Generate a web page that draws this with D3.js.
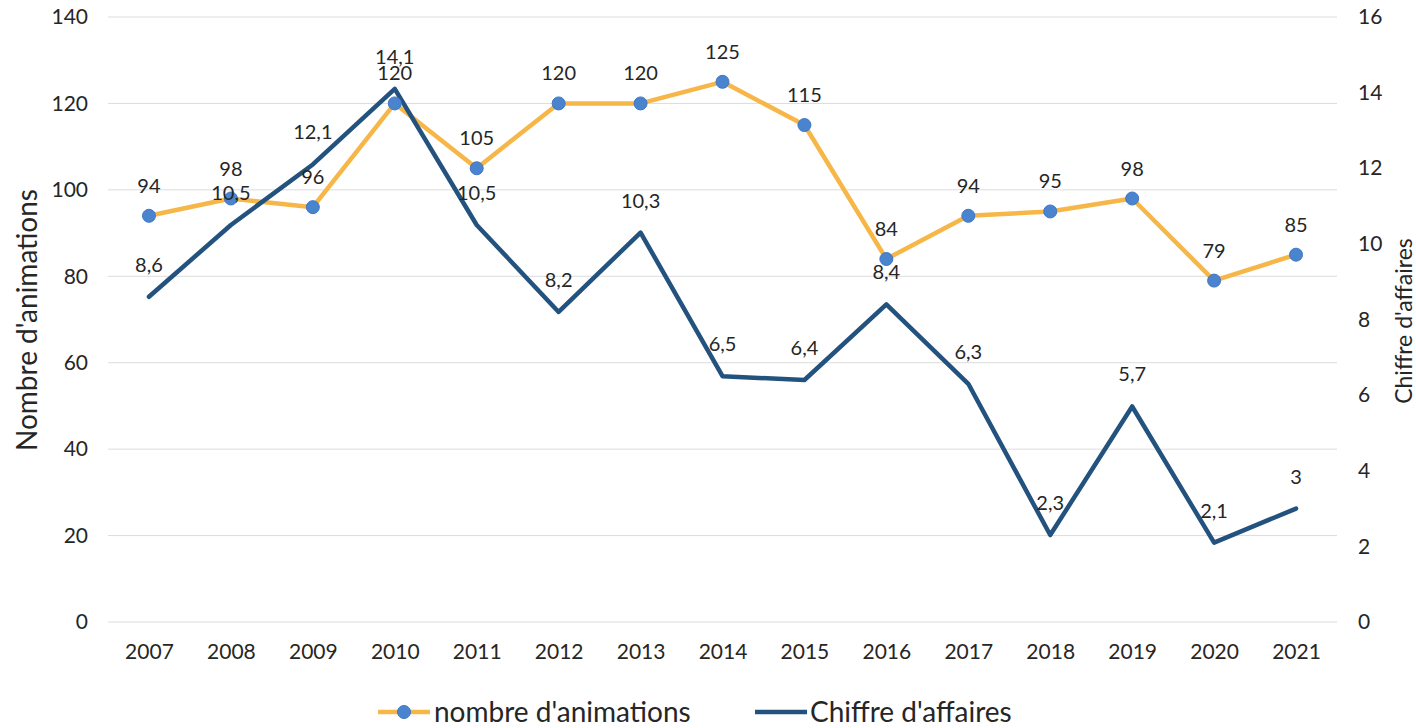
<!DOCTYPE html>
<html>
<head>
<meta charset="utf-8">
<script src="https://cdn.jsdelivr.net/npm/d3@7"></script>
<style>
  body { margin: 0; background: #fff; }
  svg text { font-family: Lato, "Open Sans", sans-serif; fill: #262626; }
</style>
</head>
<body>
<svg id="chart" width="1416" height="728"></svg>
<script>
var years = ['2007', '2008', '2009', '2010', '2011', '2012', '2013', '2014', '2015', '2016', '2017', '2018', '2019', '2020', '2021'];
var animations = [94, 98, 96, 120, 105, 120, 120, 125, 115, 84, 94, 95, 98, 79, 85];
var chiffre = [8.6, 10.5, 12.1, 14.1, 10.5, 8.2, 10.3, 6.5, 6.4, 8.4, 6.3, 2.3, 5.7, 2.1, 3];
var leftTicks = [0, 20, 40, 60, 80, 100, 120, 140];
var rightTicks = [0, 2, 4, 6, 8, 10, 12, 14, 16];

var svg = d3.select('#chart');

var x = d3.scalePoint().domain(years).range([108, 1337]).padding(0.5);
var yL = d3.scaleLinear().domain([0, 140]).range([622, 17]);
var yR = d3.scaleLinear().domain([0, 16]).range([622, 17]);

var frNum = function(v) { return String(v).replace('.', ','); };

// gridlines
svg.append('g')
  .selectAll('line')
  .data(leftTicks)
  .enter().append('line')
  .attr('x1', 108).attr('x2', 1337)
  .attr('y1', function(d) { return yL(d); })
  .attr('y2', function(d) { return yL(d); })
  .attr('stroke', '#dcdcdc')
  .attr('stroke-width', 1);

// left axis
var axL = svg.append('g').attr('transform', 'translate(94,0)')
  .call(d3.axisLeft(yL).tickValues(leftTicks).tickSize(0).tickPadding(6));
axL.select('.domain').remove();
axL.selectAll('text').style('font-size', '21px');

// right axis
var axR = svg.append('g').attr('transform', 'translate(1352,0)')
  .call(d3.axisRight(yR).tickValues(rightTicks).tickSize(0).tickPadding(6));
axR.select('.domain').remove();
axR.selectAll('text').style('font-size', '21px');

// bottom axis
var axB = svg.append('g').attr('transform', 'translate(0,640)')
  .call(d3.axisBottom(x).tickSize(0).tickPadding(4));
axB.select('.domain').remove();
axB.selectAll('text').style('font-size', '21px');

// axis titles
svg.append('text')
  .attr('transform', 'translate(37,320) rotate(-90)')
  .attr('text-anchor', 'middle')
  .style('font-size', '28px')
  .text("Nombre d'animations");

svg.append('text')
  .attr('transform', 'translate(1412,321) rotate(-90)')
  .attr('text-anchor', 'middle')
  .style('font-size', '23px')
  .text("Chiffre d'affaires");

// lines
var lineL = d3.line()
  .x(function(d, i) { return x(years[i]); })
  .y(function(d) { return yL(d); });
var lineR = d3.line()
  .x(function(d, i) { return x(years[i]); })
  .y(function(d) { return yR(d); });

svg.append('path')
  .datum(animations)
  .attr('d', lineL)
  .attr('fill', 'none')
  .attr('stroke', '#f6b748')
  .attr('stroke-width', 4.5)
  .attr('stroke-linejoin', 'round');

svg.append('path')
  .datum(chiffre)
  .attr('d', lineR)
  .attr('fill', 'none')
  .attr('stroke', '#23527e')
  .attr('stroke-width', 4.5)
  .attr('stroke-linejoin', 'round')
  .attr('stroke-linecap', 'round');

// markers
svg.append('g')
  .selectAll('circle')
  .data(animations)
  .enter().append('circle')
  .attr('cx', function(d, i) { return x(years[i]); })
  .attr('cy', function(d) { return yL(d); })
  .attr('r', 6.5)
  .attr('fill', '#4a84cf')
  .attr('stroke', '#3f77c4')
  .attr('stroke-width', 1);

// data labels
svg.append('g')
  .selectAll('text')
  .data(animations)
  .enter().append('text')
  .attr('x', function(d, i) { return x(years[i]); })
  .attr('y', function(d) { return yL(d) - 23; })
  .attr('text-anchor', 'middle')
  .style('font-size', '20px')
  .text(function(d) { return frNum(d); });

svg.append('g')
  .selectAll('text')
  .data(chiffre)
  .enter().append('text')
  .attr('x', function(d, i) { return x(years[i]); })
  .attr('y', function(d) { return yR(d) - 25; })
  .attr('text-anchor', 'middle')
  .style('font-size', '20px')
  .text(function(d) { return frNum(d); });

// legend
var leg = svg.append('g').attr('transform', 'translate(0,712)');
leg.append('line').attr('x1', 378).attr('x2', 430).attr('y1', 0).attr('y2', 0)
  .attr('stroke', '#f6b748').attr('stroke-width', 4.5);
leg.append('circle').attr('cx', 404).attr('cy', 0).attr('r', 6.5)
  .attr('fill', '#4a84cf').attr('stroke', '#3f77c4');
leg.append('text').attr('x', 434).attr('y', 10).style('font-size', '28px')
  .text("nombre d'animations");
leg.append('line').attr('x1', 755).attr('x2', 807).attr('y1', 0).attr('y2', 0)
  .attr('stroke', '#23527e').attr('stroke-width', 4.5);
leg.append('text').attr('x', 810).attr('y', 10).style('font-size', '28px')
  .text("Chiffre d'affaires");
</script>
</body>
</html>
